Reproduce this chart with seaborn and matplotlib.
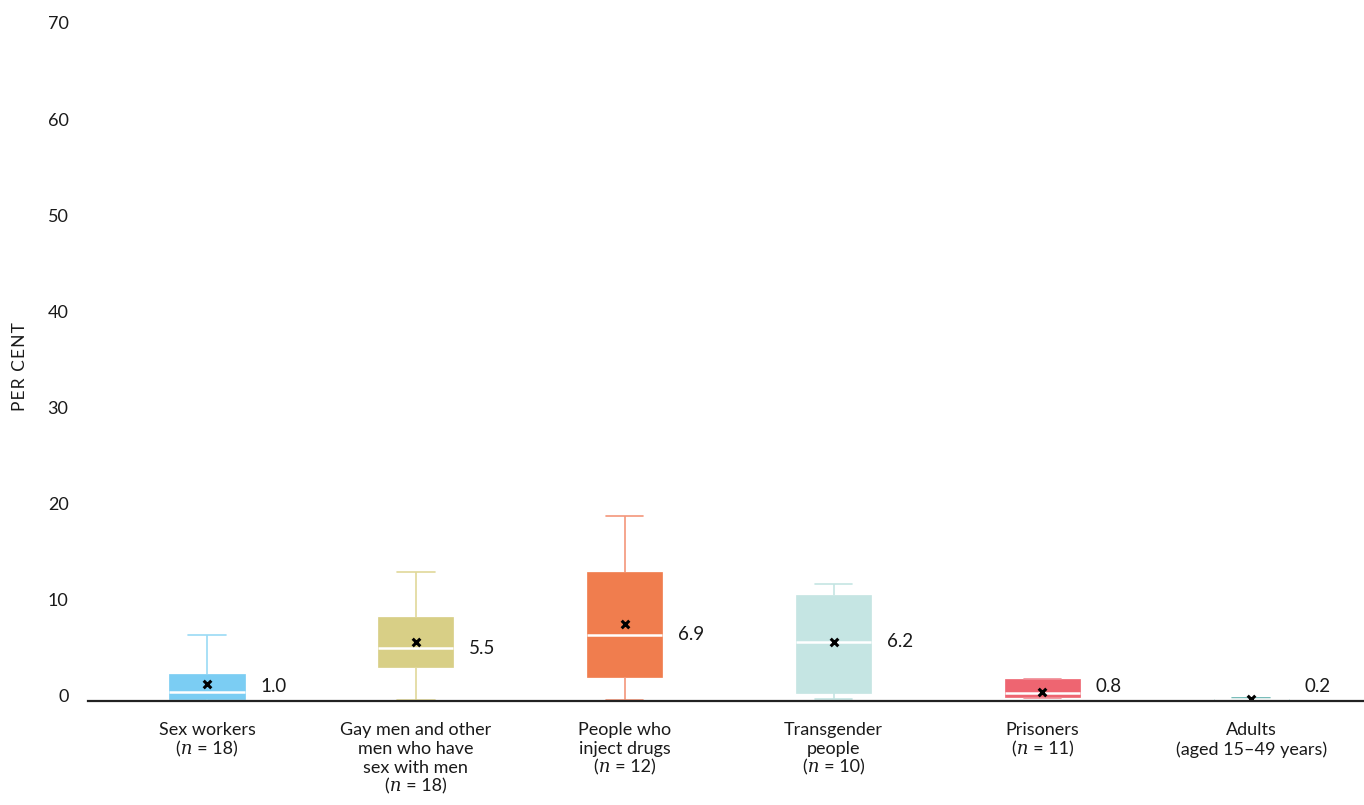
import numpy as np
import pandas as pd
import matplotlib
matplotlib.use("Agg")
import matplotlib.pyplot as plt
import matplotlib.transforms as mtransforms
import seaborn as sns

# ---- data ----
categories = ["Sex workers", "Gay men and other men who have sex with men",
              "People who inject drugs", "Transgender people", "Prisoners", "Adults"]
tick_labels = ["Sex workers\n(𝑛 = 18)",
               "Gay men and other\nmen who have\nsex with men\n(𝑛 = 18)",
               "People who\ninject drugs\n(𝑛 = 12)",
               "Transgender\npeople\n(𝑛 = 10)",
               "Prisoners\n(𝑛 = 11)",
               "Adults\n(aged 15–49 years)"]
whisker_low = [0.0, 0.1, 0.1, 0.2, 0.3, 0.1]
quartile_1 = [0.2, 3.6, 2.5, 0.8, 0.45, 0.15]
medians = [1.0, 5.5, 6.9, 6.2, 0.8, 0.2]
quartile_3 = [2.8, 8.8, 13.5, 11.1, 2.3, 0.25]
whisker_high = [6.9, 13.5, 19.3, 12.2, 2.3, 0.3]
means = [1.8, 6.2, 8.0, 6.2, 1.0, 0.2]
median_labels = ["1.0", "5.5", "6.9", "6.2", "0.8", "0.2"]

fill_colors = ["#7BCDF3", "#D8CF86", "#F07D4E", "#C5E5E3", "#EE6571", "#9FD3CF"]
line_colors = ["#9ADAF5", "#E0D89A", "#F4967A", "#C5E5E3", "#F08A93", "#5FAFAB"]

# five-number summary per group -> quartiles computed by seaborn reproduce them exactly
rows = []
for c, lo, q1, md, q3, hi in zip(categories, whisker_low, quartile_1, medians, quartile_3, whisker_high):
    for v in (lo, q1, md, q3, hi):
        rows.append({"group": c, "value": v})
df = pd.DataFrame(rows)
mean_df = pd.DataFrame({"group": categories, "mean": means})

sns.set_theme(style="white")
plt.rcParams["font.family"] = ["Lato", "DejaVu Sans", "DejaVu Serif"]

TXT = "#1a1a1a"
fig = plt.figure(figsize=(13.64, 8.05), dpi=100)
ax = fig.add_axes([0.0645, 0.129, 0.9355, 0.835])

for i, c in enumerate(categories):
    sub = df[df["group"] == c]
    sns.boxplot(data=sub, x="group", y="value", order=categories, ax=ax,
                color=fill_colors[i], linecolor=line_colors[i], saturation=1,
                width=0.36, whis=(0, 100), showfliers=False, linewidth=1.2,
                boxprops=dict(facecolor=fill_colors[i], edgecolor=fill_colors[i], linewidth=0.5),
                medianprops=dict(color="white", linewidth=1.8),
                whiskerprops=dict(color=line_colors[i], linewidth=1.2),
                capprops=dict(color=line_colors[i], linewidth=1.2))

sns.scatterplot(data=mean_df, x="group", y="mean", ax=ax, marker="x", color="black",
                s=30, linewidth=2.2, zorder=5, legend=False)

for i, (md, lab) in enumerate(zip(medians, median_labels)):
    ax.text(i + 0.255, max(md, 1.5), lab, ha="left", va="center", fontsize=13.5, color=TXT)

ax.set_xlim(-0.57, 5.54)
ax.set_ylim(0, 70)
ax.set_yticks(range(0, 71, 10))
ax.set_xticks(range(len(categories)))
ax.set_xticklabels(tick_labels, fontsize=13, color=TXT, linespacing=1.22)
ax.tick_params(axis="y", labelsize=13, colors=TXT, length=0, pad=14)
ax.tick_params(axis="x", length=0, pad=15)
ax.set_xlabel("")
ax.set_ylabel("")
offset = mtransforms.ScaledTranslation(0, 6 / 100, fig.dpi_scale_trans)
for lab in ax.get_yticklabels():
    lab.set_transform(lab.get_transform() + offset)

fig.text(20 / 1364, 1 - 367 / 805, "P\u200aE\u200aR\u2009 C\u200aE\u200aN\u200aT", rotation=90,
         ha="center", va="center", fontsize=12.5, color=TXT)

for s in ["top", "right", "left"]:
    ax.spines[s].set_visible(False)
ax.spines["bottom"].set_color("#222222")
ax.spines["bottom"].set_linewidth(1.6)
ax.spines["bottom"].set_zorder(6)

fig.savefig("out.png", dpi=100)
